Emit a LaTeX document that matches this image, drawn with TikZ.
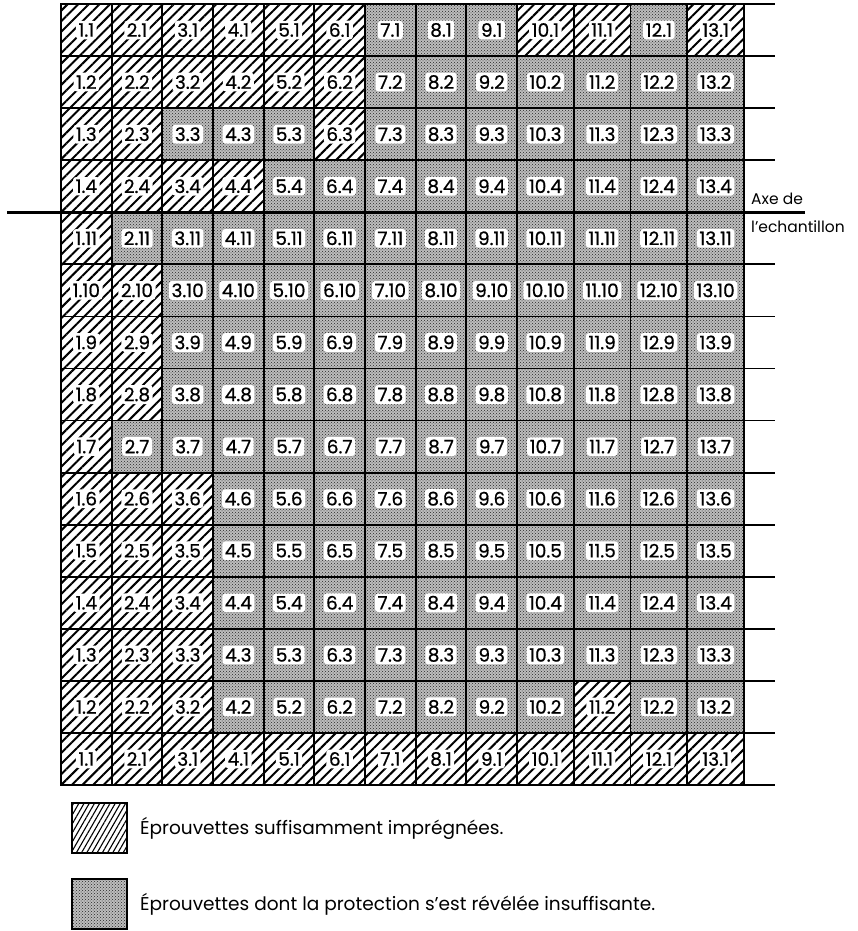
\documentclass[tikz,border=0pt]{standalone}
\usepackage{fontspec}
\setmainfont{Poppins}
\newfontfamily\labfont{Poppins}[FakeBold=0.7]
\usetikzlibrary{patterns,patterns.meta}
\newlength\legw
\tikzset{
  cellhatch/.style={pattern={Lines[angle=45,distance=7.5pt,line width=2pt]}},
  legendhatch/.style={pattern={Lines[angle=60,distance=4.5pt,line width=1.1pt]}},
  stipbase/.style={fill=black!26},
  stipdots/.style={pattern=crosshatch dots, pattern color=black!85},
  celllabel/.style={fill=white, rounded corners=3pt, inner xsep=2.5pt, inner ysep=2.5pt,
    font=\labfont\fontsize{18.5}{18.5}\selectfont},
  gridline/.style={line width=1.8pt},
  borderline/.style={line width=2.8pt},
  axisline/.style={line width=2.8pt},
  legendbox/.style={draw, line width=1.4pt, minimum width=55pt, minimum height=50pt, inner sep=0pt},
  axetext/.style={font=\fontsize{15.5}{15.5}\selectfont, inner sep=0pt}
}
\begin{document}
\settowidth\legw{\fontsize{10}{10}\selectfont Éprouvettes dont la protection s'est révélée insuffisante.}%
\pgfmathsetmacro\legfs{5150/\legw}%
\begin{tikzpicture}[x=1pt,y=-1pt]
\tikzset{legendtext/.style={anchor=west, inner sep=0pt, font=\fontsize{\legfs}{\legfs}\selectfont}}
\useasboundingbox (0,0) rectangle (858,931);
\fill[white] (0,0) rectangle (858,931);
% stippled background of all cells
\fill[stipbase] (61,4) rectangle (744,785);
\fill[stipdots] (61,4) rectangle (744,785);
% hatched cells
\foreach \r/\hats in {1/{1,2,3,4,5,6,10,11,13}, 2/{1,2,3,4,5,6}, 3/{1,2,6}, 4/{1,2,3,4},
    5/{1}, 6/{1,2}, 7/{1,2}, 8/{1,2}, 9/{1}, 10/{1,2,3}, 11/{1,2,3}, 12/{1,2,3},
    13/{1,2,3}, 14/{1,2,3,11}, 15/{1,2,3,4,5,6,7,8,9,10,11,12,13}} {
  \foreach \c in \hats {
    \pgfmathsetmacro\xl{\c<10 ? 61+(\c-1)*50.667 : 517+(\c-10)*56.75}
    \pgfmathsetmacro\w{\c<10 ? 50.667 : 56.75}
    \pgfmathsetmacro\yt{4+(\r-1)*52.07}
    \fill[white] (\xl,\yt) rectangle ++(\w,52.07);
    \fill[cellhatch] (\xl,\yt) rectangle ++(\w,52.07);
  }
}
% labels
\foreach \r/\lab in {1/1,2/2,3/3,4/4,5/11,6/10,7/9,8/8,9/7,10/6,11/5,12/4,13/3,14/2,15/1} {
  \foreach \c in {1,...,13} {
    \pgfmathsetmacro\xc{\c<10 ? 61+(\c-0.5)*50.667 : 517+(\c-9.5)*56.75}
    \pgfmathsetmacro\yc{4+(\r-0.5)*52.07}
    \node[celllabel] (c\c-\r) at (\xc,\yc) {\c.\lab};
  }
}
% grid lines
\foreach \x in {111.667,162.333,213,263.667,314.333,365,415.667,466.333,517,573.75,630.5,687.25}
  \draw[gridline] (\x,4) -- (\x,785);
\foreach \r in {1,...,14} {
  \pgfmathsetmacro\y{4+\r*52.07}
  \draw[gridline] (61,\y) -- (744,\y);
}
% right ticks
\foreach \r in {0,...,15} {
  \pgfmathsetmacro\y{4+\r*52.07}
  \draw[gridline] (744,\y) -- (775,\y);
}
\draw[borderline] (61,4) rectangle (744,785);
% axis of the sample
\coordinate (axL) at (7,212.28);
\coordinate (axR) at (805,212.28);
\draw[axisline] (axL) -- (axR);
\node[axetext, anchor=south west] (axe) at (751,205) {Axe de};
\node[axetext, anchor=north west] (ech) at (751,221) {l'echantillon};
% legend
\node[legendbox, legendhatch] (leg1) at (99.5,828) {};
\node[legendtext] (leg1t) at (140,828) {Éprouvettes suffisamment imprégnées.};
\fill[stipbase] (72,879) rectangle (127,929);
\node[legendbox, stipdots] (leg2) at (99.5,904) {};
\node[legendtext] (leg2t) at (140,904) {Éprouvettes dont la protection s'est révélée insuffisante.};
\end{tikzpicture}
\end{document}
